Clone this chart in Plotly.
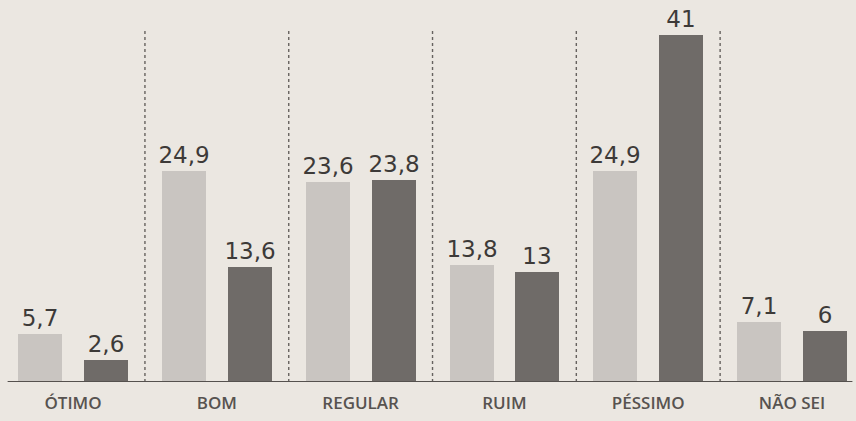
import plotly.graph_objects as go

categories = ["ÓTIMO", "BOM", "REGULAR", "RUIM", "PÉSSIMO", "NÃO SEI"]
series_a = [5.7, 24.9, 23.6, 13.8, 24.9, 7.1]   # light bars
series_b = [2.6, 13.6, 23.8, 13.0, 41.0, 6.0]   # dark bars

def fmt(v):
    s = f"{v:g}"
    return s.replace(".", ",")

xs = list(range(len(categories)))
BG = "#ebe7e1"
LIGHT = "#c9c5c1"
DARK = "#6f6b68"
TXT = "#3d3a38"

fig = go.Figure()
fig.add_trace(go.Bar(
    x=xs, y=series_a, width=0.306, offset=-0.382,
    marker=dict(color=LIGHT, line=dict(width=0)),
    text=[fmt(v) for v in series_a], textposition="outside",
    constraintext="none",
    textfont=dict(family="DejaVu Sans", size=23, color=TXT),
    cliponaxis=False, showlegend=False,
))
fig.add_trace(go.Bar(
    x=xs, y=series_b, width=0.306, offset=0.076,
    marker=dict(color=DARK, line=dict(width=0)),
    text=[fmt(v) for v in series_b], textposition="outside",
    constraintext="none",
    textfont=dict(family="DejaVu Sans", size=23, color=TXT),
    cliponaxis=False, showlegend=False,
))

shapes = []
for i in range(len(categories) - 1):
    shapes.append(dict(type="line", xref="x", yref="y",
                       x0=i + 0.5, x1=i + 0.5, y0=0, y1=41.6,
                       line=dict(color="#66625f", width=1.4, dash="dot"),
                       layer="below"))
shapes.append(dict(type="line", xref="x", yref="y",
                   x0=-0.455, x1=5.42, y0=0, y1=0,
                   line=dict(color="#55514e", width=2)))

fig.update_layout(
    width=856, height=421,
    margin=dict(l=0, r=0, t=1, b=39),
    paper_bgcolor=BG, plot_bgcolor=BG,
    bargap=0,
    shapes=shapes,
    xaxis=dict(range=[-0.508, 5.445], tickmode="array", tickvals=xs,
               ticktext=categories, showgrid=False, zeroline=False,
               showline=False, ticks="outside", ticklen=6,
               tickcolor="rgba(0,0,0,0)",
               tickfont=dict(family="Open Sans, DejaVu Sans",
                             size=17, color="#575350", weight=600)),
    yaxis=dict(range=[0, 45], visible=False, showgrid=False, zeroline=False),
)

fig.write_html(
    "out.html",
    config={"displayModeBar": False},
    post_script="document.body.style.margin='0';document.body.style.background='%s';" % BG,
)
